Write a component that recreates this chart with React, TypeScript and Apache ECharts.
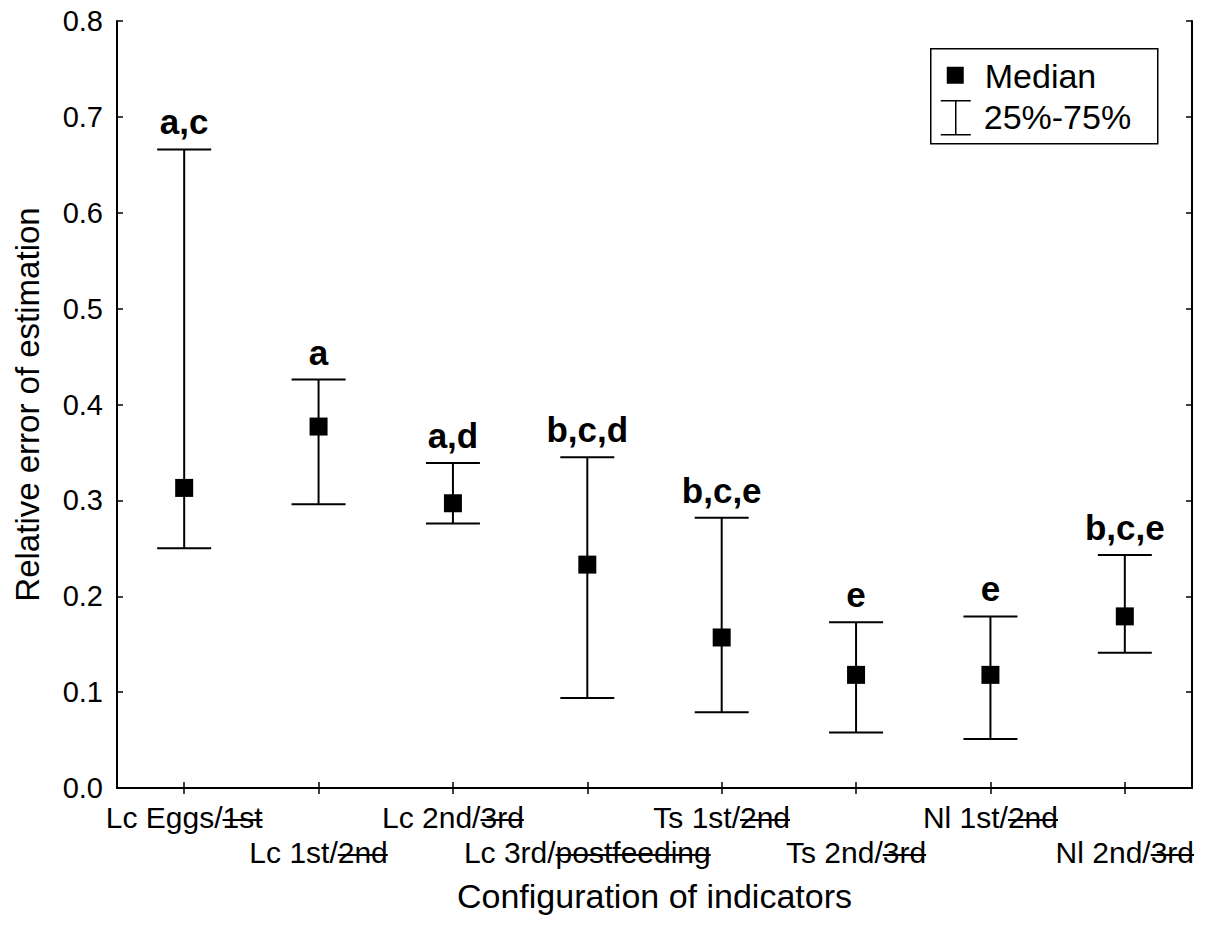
import React, { useEffect, useRef } from "react";
import * as echarts from "echarts";

// ---- data ----
const categories = [
  "Lc Eggs/1st",
  "Lc 1st/2nd",
  "Lc 2nd/3rd",
  "Lc 3rd/postfeeding",
  "Ts 1st/2nd",
  "Ts 2nd/3rd",
  "Nl 1st/2nd",
  "Nl 2nd/3rd",
];
// label split: plain part and struck-through part
const labelPlain = ["Lc Eggs/", "Lc 1st/", "Lc 2nd/", "Lc 3rd/", "Ts 1st/", "Ts 2nd/", "Nl 1st/", "Nl 2nd/"];
const labelStruck = ["1st", "2nd", "3rd", "postfeeding", "2nd", "3rd", "2nd", "3rd"];
const medians = [0.313, 0.377, 0.297, 0.233, 0.157, 0.118, 0.118, 0.179];
const q25 = [0.25, 0.296, 0.276, 0.094, 0.079, 0.058, 0.051, 0.141];
const q75 = [0.666, 0.426, 0.339, 0.345, 0.282, 0.173, 0.179, 0.243];
const groupLetters = ["a,c", "a", "a,d", "b,c,d", "b,c,e", "e", "e", "b,c,e"];
const yTicks = { min: 0, max: 0.8, interval: 0.1 };

const FONT = '"Liberation Sans", Arial, Helvetica, sans-serif';

export default function App() {
  const ref = useRef<HTMLDivElement>(null);

  useEffect(() => {
    if (!ref.current) return;
    const chart = echarts.init(ref.current, null, { renderer: "svg" });

    const strike = new echarts.graphic.LinearGradient(0, 0, 0, 1, [
      { offset: 0, color: "rgba(0,0,0,0)" },
      { offset: 0.555, color: "rgba(0,0,0,0)" },
      { offset: 0.555, color: "#000" },
      { offset: 0.61, color: "#000" },
      { offset: 0.61, color: "rgba(0,0,0,0)" },
      { offset: 1, color: "rgba(0,0,0,0)" },
    ]);

    const LH = 35;
    const errData = categories.map((c, i) => [i, q25[i], q75[i]]);
    const medData = categories.map((c, i) => [i, medians[i]]);

    const option: any = {
      animation: false,
      backgroundColor: "#fff",
      grid: { left: 117, right: 13, top: 21, bottom: 141 },
      xAxis: [
        {
          type: "category",
          data: categories,
          position: "bottom",
          boundaryGap: true,
          name: "Configuration of indicators",
          nameLocation: "middle",
          nameGap: 91,
          nameTextStyle: { fontFamily: FONT, fontSize: 34, color: "#000" },
          axisLine: { show: true, lineStyle: { color: "#000", width: 2 } },
          axisTick: { show: true, inside: true, alignWithLabel: true, length: 6, lineStyle: { color: "#000", width: 1.5 } },
          axisLabel: {
            interval: 0,
            hideOverlap: false,
            margin: 12,
            color: "#000",
            formatter: (v: string, i: number) => {
              const body = `{n|${labelPlain[i]}}{s|${labelStruck[i]}}`;
              return i % 2 === 1 ? `{sp| }\n${body}` : body;
            },
            rich: {
              n: { fontFamily: FONT, fontSize: 30, color: "#000", lineHeight: LH },
              s: { fontFamily: FONT, fontSize: 30, color: "#000", lineHeight: LH, backgroundColor: strike },
              sp: { fontFamily: FONT, fontSize: 30, lineHeight: LH },
            },
          },
          splitLine: { show: false },
        },
        {
          type: "category",
          data: categories,
          position: "top",
          boundaryGap: true,
          axisLine: { show: true, lineStyle: { color: "#000", width: 2 } },
          axisTick: { show: true, inside: true, alignWithLabel: true, length: 6, lineStyle: { color: "#000", width: 1.5 } },
          axisLabel: { show: false },
          splitLine: { show: false },
        },
      ],
      yAxis: [
        {
          type: "value",
          min: yTicks.min,
          max: yTicks.max,
          interval: yTicks.interval,
          name: "Relative error of estimation",
          nameLocation: "middle",
          nameGap: 73,
          nameRotate: 90,
          nameTextStyle: { fontFamily: FONT, fontSize: 33, color: "#000" },
          axisLine: { show: true, lineStyle: { color: "#000", width: 2 } },
          axisTick: { show: true, inside: true, length: 6, lineStyle: { color: "#000", width: 1.5 } },
          axisLabel: {
            margin: 14,
            fontFamily: FONT,
            fontSize: 29,
            color: "#000",
            formatter: (v: number) => v.toFixed(1),
          },
          splitLine: { show: false },
        },
        {
          type: "value",
          position: "right",
          min: yTicks.min,
          max: yTicks.max,
          interval: yTicks.interval,
          axisLine: { show: true, lineStyle: { color: "#000", width: 2 } },
          axisTick: { show: true, inside: true, length: 6, lineStyle: { color: "#000", width: 1.5 } },
          axisLabel: { show: false },
          splitLine: { show: false },
        },
      ],
      series: [
        {
          type: "custom",
          name: "25%-75%",
          xAxisIndex: 0,
          yAxisIndex: 0,
          encode: { x: 0, y: [1, 2] },
          data: errData,
          z: 2,
          renderItem: (params: any, api: any) => {
            const i = api.value(0);
            const lo = api.coord([i, api.value(1)]);
            const hi = api.coord([i, api.value(2)]);
            const half = 27;
            const st = { stroke: "#000", lineWidth: 2 };
            return {
              type: "group",
              children: [
                { type: "line", shape: { x1: lo[0], y1: lo[1], x2: hi[0], y2: hi[1] }, style: st },
                { type: "line", shape: { x1: lo[0] - half, y1: lo[1], x2: lo[0] + half, y2: lo[1] }, style: st },
                { type: "line", shape: { x1: hi[0] - half, y1: hi[1], x2: hi[0] + half, y2: hi[1] }, style: st },
                {
                  type: "text",
                  x: hi[0],
                  y: hi[1] - 10,
                  style: {
                    text: groupLetters[params.dataIndex],
                    fontFamily: FONT,
                    fontSize: 35,
                    fontWeight: "bold",
                    fill: "#000",
                    align: "center",
                    verticalAlign: "bottom",
                  },
                },
              ],
            };
          },
        },
        {
          type: "scatter",
          name: "Median",
          xAxisIndex: 0,
          yAxisIndex: 0,
          data: medData,
          symbol: "rect",
          symbolSize: 18,
          itemStyle: { color: "#000", opacity: 1 },
          z: 3,
        },
      ],
      graphic: [
        {
          type: "group",
          left: 930,
          top: 48,
          children: [
            { type: "rect", shape: { x: 0, y: 0, width: 227, height: 95 }, style: { fill: "#fff", stroke: "#000", lineWidth: 1.5 } },
            { type: "rect", shape: { x: 16, y: 18, width: 17, height: 17 }, style: { fill: "#000" } },
            { type: "text", x: 54, y: 27, style: { text: "Median", fontFamily: FONT, fontSize: 34, fill: "#000", verticalAlign: "middle" } },
            { type: "line", shape: { x1: 10, y1: 52, x2: 40, y2: 52 }, style: { stroke: "#000", lineWidth: 1.5 } },
            { type: "line", shape: { x1: 25, y1: 52, x2: 25, y2: 86 }, style: { stroke: "#000", lineWidth: 1.5 } },
            { type: "line", shape: { x1: 10, y1: 86, x2: 40, y2: 86 }, style: { stroke: "#000", lineWidth: 1.5 } },
            { type: "text", x: 53, y: 68, style: { text: "25%-75%", fontFamily: FONT, fontSize: 34, fill: "#000", verticalAlign: "middle" } },
          ],
        },
      ],
    };

    chart.setOption(option);
    return () => chart.dispose();
  }, []);

  return (
    <div
      ref={ref}
      style={{ position: "fixed", left: 0, top: 0, width: 1205, height: 929, background: "#fff" }}
    />
  );
}
